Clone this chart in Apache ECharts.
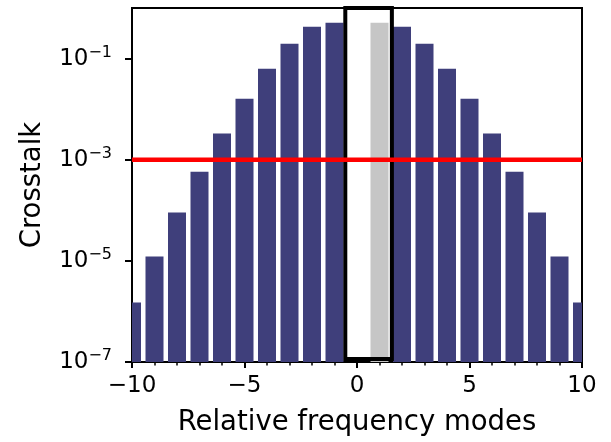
<!DOCTYPE html>
<html>
<head>
<meta charset="utf-8">
<script src="https://cdn.jsdelivr.net/npm/echarts@6/dist/echarts.min.js"></script>
<style>
html,body{margin:0;padding:0;background:#fff;}
#chart{width:611px;height:442px;}
</style>
</head>
<body>
<div id="chart"></div>
<script>
// ---- data ----
const modes = [-10, -9, -8, -7, -6, -5, -4, -3, -2, -1, 2, 3, 4, 5, 6, 7, 8, 9, 10];
const crosstalk = [1.5e-6, 1.22e-5, 9.0e-5, 5.8e-4, 3.3e-3, 1.6e-2, 6.3e-2, 0.197, 0.427, 0.513,
                   0.427, 0.197, 6.3e-2, 1.6e-2, 3.3e-3, 5.8e-4, 9.0e-5, 1.22e-5, 1.5e-6];
const highlightModes = [1];
const highlightValues = [0.513];
const threshold = [1e-3];
const highlightBox = [-0.52, 1.55, 1.15e-7, 1];   // x0, x1, y0, y1
const xTicks = [-10, -5, 0, 5, 10];
const yTicks = [1e-7, 1e-5, 1e-3, 1e-1];
const Y_MIN = 1e-7, Y_MAX = 1;

const FONT = 'DejaVu Sans';
const BAR_HALF = 0.4;

function barRender(color) {
  return function (params, api) {
    const x = api.value(0), v = api.value(1);
    const pTop = api.coord([x - BAR_HALF, v]);
    const pBot = api.coord([x + BAR_HALF, Y_MIN]);
    return {
      type: 'rect',
      shape: { x: pTop[0], y: pTop[1], width: pBot[0] - pTop[0], height: pBot[1] - pTop[1] },
      style: { fill: color }
    };
  };
}

const chart = echarts.init(document.getElementById('chart'), null, { renderer: 'canvas' });
chart.setOption({
  animation: false,
  backgroundColor: '#ffffff',
  grid: { left: 132, right: 29, top: 8, bottom: 80, show: true, borderColor: '#000', borderWidth: 2, backgroundColor: 'transparent' },
  xAxis: {
    type: 'value', min: -10, max: 10, interval: 5,
    name: 'Relative frequency modes', nameLocation: 'middle', nameGap: 47,
    nameTextStyle: { fontFamily: FONT, fontSize: 27.5, color: '#000' },
    axisLine: { show: true, onZero: false, lineStyle: { color: '#000', width: 2 } },
    axisTick: { show: true, length: 6, lineStyle: { color: '#000', width: 2 } },
    minorTick: { show: true, splitNumber: 5, length: 3.5, lineStyle: { color: '#000', width: 1.5 } },
    splitLine: { show: false },
    axisLabel: {
      fontFamily: FONT, fontSize: 23, color: '#000', margin: 13,
      formatter: v => (v < 0 ? '\u2212' + Math.abs(v) : String(v))
    }
  },
  yAxis: {
    type: 'log', logBase: 10, min: Y_MIN, max: Y_MAX,
    name: 'Crosstalk', nameLocation: 'middle', nameGap: 85, nameRotate: 90,
    nameTextStyle: { fontFamily: FONT, fontSize: 27.5, color: '#000' },
    axisLine: { show: true, onZero: false, lineStyle: { color: '#000', width: 2 } },
    axisTick: { show: true, length: 7, customValues: yTicks, lineStyle: { color: '#000', width: 2 } },
    splitLine: { show: false },
    minorTick: { show: false },
    axisLabel: {
      customValues: yTicks,
      margin: 20,
      formatter: v => '{b|10}{s|\u2212' + Math.abs(Math.round(Math.log10(v))) + '}',
      rich: {
        b: { fontFamily: FONT, fontSize: 23, color: '#000', lineHeight: 28 },
        s: { fontFamily: FONT, fontSize: 16, color: '#000', lineHeight: 17, verticalAlign: 'top' }
      }
    }
  },
  series: [
    {
      type: 'custom', name: 'crosstalk', clip: true, z: 2,
      renderItem: barRender('#3f3f7b'),
      encode: { x: 0, y: 1 },
      data: modes.map((m, i) => [m, crosstalk[i]])
    },
    {
      type: 'custom', name: 'highlight', clip: true, z: 2,
      renderItem: barRender('#c6c6c6'),
      encode: { x: 0, y: 1 },
      data: highlightModes.map((m, i) => [m, highlightValues[i]])
    },
    {
      type: 'custom', name: 'box', clip: false, z: 3,
      renderItem: function (params, api) {
        const p0 = api.coord([api.value(0), api.value(3)]);
        const p1 = api.coord([api.value(1), api.value(2)]);
        return {
          type: 'rect',
          shape: { x: p0[0], y: p0[1], width: p1[0] - p0[0], height: p1[1] - p0[1] },
          style: { fill: null, stroke: '#000', lineWidth: 4 }
        };
      },
      encode: { x: [0, 1], y: [2, 3] },
      data: [highlightBox]
    },
    {
      type: 'line', name: 'threshold', z: 4, symbol: 'none', silent: true,
      lineStyle: { color: '#ff0000', width: 4.5 },
      data: [[-10, threshold[0]], [10, threshold[0]]]
    }
  ]
});
</script>
</body>
</html>
